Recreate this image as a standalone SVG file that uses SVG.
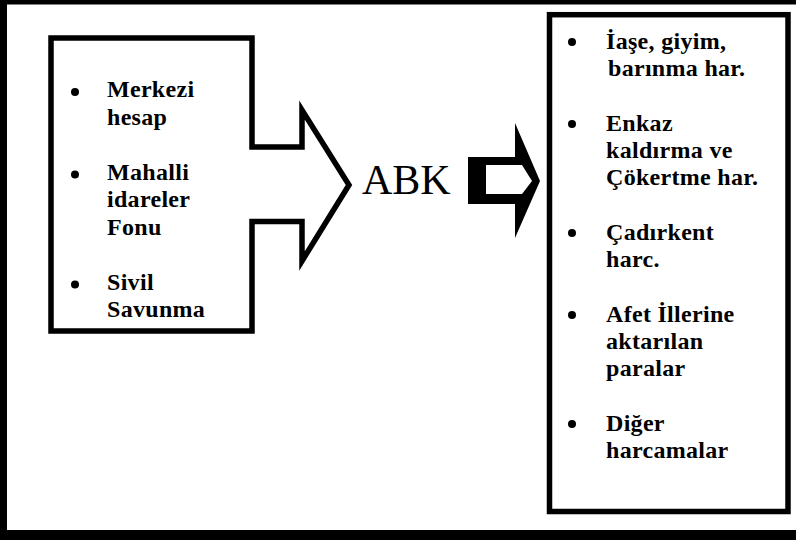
<svg xmlns="http://www.w3.org/2000/svg" width="796" height="540" viewBox="0 0 796 540">
<style>
.t{font-family:"Liberation Serif","Times New Roman",serif;font-weight:bold;font-size:24px;letter-spacing:0.3px;fill:#000}
.abk{font-family:"Liberation Serif","Times New Roman",serif;font-size:42px;fill:#000}
.ol{fill:#fff;stroke:#000;stroke-width:5.5;stroke-linejoin:miter;stroke-miterlimit:10}
.b{fill:#000}
</style>
<rect width="796" height="540" fill="#fff"/>
<g id="frame" class="b">
<rect x="0" y="0" width="796" height="4.5"/>
<rect x="0" y="0" width="7" height="540"/>
<rect x="0" y="530" width="796" height="10"/>
</g>
<g id="sources">
<path class="ol" d="M51,38 H252 V147 H302 V110 L349,185 L302,261 V221.5 H252 V331 H51 Z"/>
<circle class="b" cx="75" cy="92" r="4"/>
<text class="t" x="107" y="97">Merkezi</text>
<text class="t" x="107" y="124.5">hesap</text>
<circle class="b" cx="75" cy="174.5" r="4"/>
<text class="t" x="107" y="179.5">Mahalli</text>
<text class="t" x="107" y="207">idareler</text>
<text class="t" x="107" y="234.5">Fonu</text>
<circle class="b" cx="75" cy="284.5" r="4"/>
<text class="t" x="107" y="289.5">Sivil</text>
<text class="t" x="107" y="317">Savunma</text>
</g>
<g id="abk">
<text class="abk" x="362" y="194">ABK</text>
</g>
<g id="connectors">
<path class="b" d="M468,157 H515 V123 L540,181 L515,238 V204 H468 Z"/>
<path fill="#fff" d="M486,165 H522 L532,181 L522,194 H486 Z"/>
</g>
<g id="uses">
<rect class="ol" x="549.5" y="14.7" width="238.5" height="496.8"/>
<circle class="b" cx="572" cy="42" r="4"/>
<text class="t" x="606" y="49">İaşe, giyim,</text>
<text class="t" x="608" y="76">barınma har.</text>
<circle class="b" cx="572" cy="124" r="4"/>
<text class="t" x="606" y="131">Enkaz</text>
<text class="t" x="606" y="158">kaldırma ve</text>
<text class="t" x="606" y="185">Çökertme har.</text>
<circle class="b" cx="572" cy="233" r="4"/>
<text class="t" x="606" y="240">Çadırkent</text>
<text class="t" x="606" y="267">harc.</text>
<circle class="b" cx="572" cy="315" r="4"/>
<text class="t" x="606" y="322">Afet İllerine</text>
<text class="t" x="606" y="349">aktarılan</text>
<text class="t" x="606" y="376">paralar</text>
<circle class="b" cx="572" cy="424" r="4"/>
<text class="t" x="606" y="431">Diğer</text>
<text class="t" x="606" y="458">harcamalar</text>
</g>
</svg>
